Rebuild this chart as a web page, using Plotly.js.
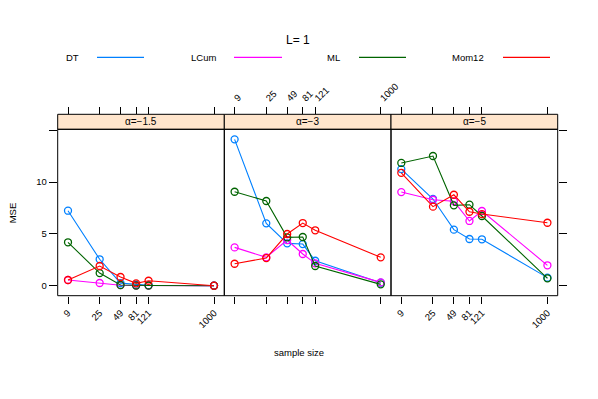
<!DOCTYPE html>
<html>
<head>
<meta charset="utf-8">
<script src="https://cdn.plot.ly/plotly-3.0.1.min.js"></script>
<style>html,body{margin:0;padding:0;background:#fff;}#chart{width:598px;height:399px;}</style>
</head>
<body>
<div id="chart"></div>
<script>
// ---- data ----
const sampleSizes = [9, 25, 49, 81, 121, 1000];
const sampleLabels = ['9', '25', '49', '81', '121', '1000'];
const panelLabels = ['α=−1.5', 'α=−3', 'α=−5'];
const methods = ['DT', 'LCum', 'ML', 'Mom12'];
const methodColors = ['#0080ff', '#ff00ff', '#006400', '#ff0000'];

// MSE per panel (alpha = -1.5, -3, -5)
const DT_a15    = [7.24, 2.55, 0.25, 0.10, 0.05, 0.01];
const LCum_a15  = [0.55, 0.26, 0.05, 0.02, 0.01, 0.00];
const ML_a15    = [4.19, 1.22, 0.07, 0.02, 0.02, 0.00];
const Mom12_a15 = [0.55, 1.90, 0.84, 0.23, 0.48, 0.00];

const DT_a3    = [14.13, 6.02, 4.09, 4.02, 2.41, 0.29];
const LCum_a3  = [3.70, 2.74, 4.41, 3.06, 2.16, 0.32];
const ML_a3    = [9.07, 8.18, 4.67, 4.70, 1.90, 0.13];
const Mom12_a3 = [2.12, 2.67, 4.99, 6.05, 5.35, 2.74];

const DT_a5    = [11.26, 8.37, 5.41, 4.51, 4.48, 0.78];
const LCum_a5  = [9.04, 8.30, 8.15, 6.25, 7.21, 1.97];
const ML_a5    = [11.85, 12.52, 7.76, 7.82, 6.73, 0.71];
const Mom12_a5 = [10.90, 7.63, 8.78, 7.14, 6.92, 6.08];

const panelData = [
  [DT_a15, LCum_a15, ML_a15, Mom12_a15],
  [DT_a3, LCum_a3, ML_a3, Mom12_a3],
  [DT_a5, LCum_a5, ML_a5, Mom12_a5]
];

// ---- layout helpers ----
const W = 598, H = 399;
const px = v => v / W;
const py = v => 1 - v / H;
const panelEdges = [57.7, 224.3, 391.0, 557.7];
const panelTop = 129.3, panelBottom = 295.7, stripTop = 114.3;
const font = 'Liberation Sans, Arial, Helvetica, sans-serif';

const traces = [];
const xNames = ['x', 'x2', 'x3'];
panelData.forEach((series, p) => {
  series.forEach((vals, m) => {
    traces.push({
      type: 'scatter', mode: 'lines+markers',
      x: sampleSizes, y: vals,
      xaxis: xNames[p], yaxis: 'y',
      name: methods[m], showlegend: false, hoverinfo: 'skip',
      line: {color: methodColors[m], width: 1.1},
      marker: {symbol: 'circle-open', size: 7, color: methodColors[m], line: {width: 1.3, color: methodColors[m]}}
    });
  });
});
// invisible helper traces so that the top / right duplicate axes get drawn
[['x4', 'y', 0], ['x5', 'y', 1], ['x6', 'y', 2], ['x3', 'y2', 2]].forEach(([xa, ya, p]) => {
  traces.push({
    type: 'scatter', mode: 'markers', x: sampleSizes, y: panelData[p][0],
    xaxis: xa, yaxis: ya, showlegend: false, hoverinfo: 'skip',
    marker: {size: 1, opacity: 0}
  });
});

const xRange = [0.81, 3.144];
function xAxis(i, labels, extra) {
  return Object.assign({
    domain: [px(panelEdges[i]), px(panelEdges[i + 1])],
    type: 'log', range: xRange, autorange: false,
    tickmode: 'array', tickvals: sampleSizes, ticktext: sampleLabels,
    showticklabels: labels, tickangle: -45,
    ticks: 'outside', ticklen: 7, tickcolor: '#000', tickwidth: 1,
    showgrid: false, zeroline: false, showline: false,
    tickfont: {family: font, size: 9.5, color: '#000'},
    fixedrange: true
  }, extra);
}

const yRange = [-0.965, 15.1];
const layout = {
  width: W, height: H,
  margin: {l: 0, r: 0, t: 0, b: 0},
  paper_bgcolor: '#fff', plot_bgcolor: 'rgba(0,0,0,0)',
  showlegend: false,
  xaxis: xAxis(0, true, {anchor: 'y'}),
  xaxis2: xAxis(1, false, {anchor: 'y'}),
  xaxis3: xAxis(2, true, {anchor: 'y'}),
  xaxis4: xAxis(0, false, {overlaying: 'x', side: 'top', anchor: 'free', position: py(stripTop)}),
  xaxis5: xAxis(1, true, {overlaying: 'x2', side: 'top', anchor: 'free', position: py(stripTop)}),
  xaxis6: xAxis(2, false, {overlaying: 'x3', side: 'top', anchor: 'free', position: py(stripTop)}),
  yaxis: {
    domain: [py(panelBottom), py(panelTop)], anchor: 'x',
    range: yRange, autorange: false,
    tickmode: 'array', tickvals: [0, 5, 10, 15], ticktext: ['0', '5', '10', ''],
    ticks: 'outside', ticklen: 8, tickcolor: '#000', tickwidth: 1,
    showgrid: false, zeroline: false, showline: false,
    tickfont: {family: font, size: 9.5, color: '#000'}, fixedrange: true
  },
  yaxis2: {
    overlaying: 'y', side: 'right', anchor: 'x3',
    range: yRange, autorange: false,
    tickmode: 'array', tickvals: [0, 5, 10, 15], showticklabels: false,
    ticks: 'outside', ticklen: 8, tickcolor: '#000', tickwidth: 1,
    showgrid: false, zeroline: false, showline: false, fixedrange: true
  },
  shapes: [],
  annotations: []
};

// panels and strips
for (let i = 0; i < 3; i++) {
  layout.shapes.push({type: 'rect', xref: 'paper', yref: 'paper',
    x0: px(panelEdges[i]), x1: px(panelEdges[i + 1]), y0: py(stripTop), y1: py(panelTop),
    fillcolor: '#ffe5cc', line: {color: '#000', width: 1}, layer: 'below'});
  layout.shapes.push({type: 'rect', xref: 'paper', yref: 'paper',
    x0: px(panelEdges[i]), x1: px(panelEdges[i + 1]), y0: py(panelBottom), y1: py(panelTop),
    line: {color: '#000', width: 1}, fillcolor: 'rgba(0,0,0,0)'});
  layout.annotations.push({xref: 'paper', yref: 'paper',
    x: px((panelEdges[i] + panelEdges[i + 1]) / 2), y: py((stripTop + panelTop) / 2),
    text: panelLabels[i], showarrow: false, xanchor: 'center', yanchor: 'middle',
    font: {family: font, size: 10, color: '#000'}});
}

// legend (drawn as key lines + text like lattice)
const legTextX = [72, 203, 333, 468];
const legLineX = [[97, 144], [234, 282], [359, 406], [503, 550]];
const legY = 57.3;
methods.forEach((m, i) => {
  layout.annotations.push({xref: 'paper', yref: 'paper', x: px(legTextX[i]), y: py(legY),
    text: m, showarrow: false, xanchor: 'center', yanchor: 'middle',
    font: {family: font, size: 9.5, color: '#000'}});
  layout.shapes.push({type: 'line', xref: 'paper', yref: 'paper',
    x0: px(legLineX[i][0]), x1: px(legLineX[i][1]), y0: py(legY), y1: py(legY),
    line: {color: methodColors[i], width: 1.3}});
});

// titles
layout.annotations.push({xref: 'paper', yref: 'paper', x: px(298), y: py(40),
  text: 'L= 1', showarrow: false, xanchor: 'center', yanchor: 'middle',
  font: {family: font, size: 12, color: '#000'}});
layout.annotations.push({xref: 'paper', yref: 'paper', x: px(12.3), y: py(213),
  text: 'MSE', textangle: -90, showarrow: false, xanchor: 'center', yanchor: 'middle',
  font: {family: font, size: 9.5, color: '#000'}});
layout.annotations.push({xref: 'paper', yref: 'paper', x: px(299), y: py(352),
  text: 'sample size', showarrow: false, xanchor: 'center', yanchor: 'middle',
  font: {family: font, size: 9.5, color: '#000'}});

Plotly.newPlot('chart', traces, layout, {staticPlot: true, displayModeBar: false});
</script>
</body>
</html>
